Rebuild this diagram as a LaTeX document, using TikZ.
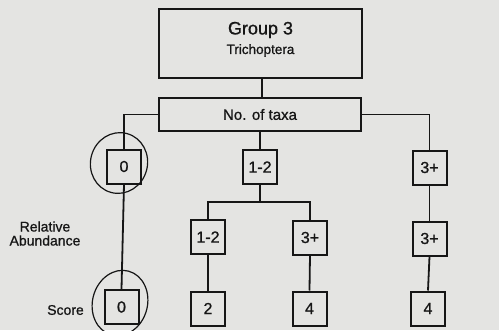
\documentclass[tikz,border=0pt]{standalone}
\usepackage{fontspec}
\setmainfont{Liberation Sans}[UprightFeatures={FakeBold=0.9}]
\definecolor{bg}{RGB}{228,228,226}
\definecolor{ink}{RGB}{22,22,22}
\begin{document}
\begin{tikzpicture}[x=1pt,y=-1pt,
  box/.style={draw=ink, line width=2pt, minimum width=34pt, minimum height=34pt, inner sep=0pt, text=ink, font=\fontsize{16}{18}\selectfont},
  conn/.style={draw=ink, line width=1.8pt},
  lbl/.style={text=ink, inner sep=0pt, font=\fontsize{14}{16}\selectfont, align=center},
  hand/.style={draw=ink, line width=1.2pt}]
\fill[bg] (0,0) rectangle (499,330);
\useasboundingbox (0,0) rectangle (499,330);
% top boxes
\node[draw=ink, line width=2pt, minimum width=203pt, minimum height=69pt] (top) at (260.5,43.5) {};
\node[lbl, font=\fontsize{18}{20}\selectfont] (g3) at (260.5,30) {Group 3};
\node[lbl, font=\fontsize{13.5}{15}\selectfont] (tri) at (260.5,50.5) {Trichoptera};
\node[draw=ink, line width=2pt, minimum width=202pt, minimum height=33pt, text=ink, font=\fontsize{15}{17}\selectfont] (taxa) at (260,114.5) {No. of taxa};
% level 2
\node[box] (b0a) at (124,166.5) {0};
\node[box] (b12a) at (260,167) {1-2};
\node[box] (b3a) at (429.5,167.5) {3+};
% level 3
\node[box] (b12b) at (208,237) {1-2};
\node[box] (b3b) at (310,237.5) {3+};
\node[box] (b3c) at (429.5,238.5) {3+};
% scores
\node[box] (b0b) at (121.5,307) {0};
\node[box] (b2) at (208,308.5) {2};
\node[box] (b4a) at (309.5,308.5) {4};
\node[box] (b4b) at (428,308.5) {4};
% side labels
\node[lbl] (rel) at (45,233.5) {Relative\\[-2pt]Abundance};
\node[lbl, anchor=east] (score) at (84,310) {Score};
% connectors
\coordinate (j) at (260,202);
\draw[conn] ([xshift=1.5pt]top.south) -- ([xshift=2pt]taxa.north);
\draw[conn] (taxa.west) -| (b0a.north);
\draw[conn] (taxa.east) -| (b3a.north);
\draw[conn] (taxa.south) -- (b12a.north);
\draw[conn] (b12a.south) -- (j);
\draw[conn] (b12b.north) |- (j) -| (b3b.north);
\draw[conn] (b0a.south) -- (b0b.north);
\draw[conn] (b12b.south) -- (b2.north);
\draw[conn] (b3b.south) -- (b4a.north);
\draw[conn] (b3a.south) -- (b3c.north);
\draw[conn] (b3c.south) -- (b4b.north);
% hand-drawn circles
\draw[hand, rotate around={-15:(119,163)}] (119,163) ellipse [x radius=28.5, y radius=30.5];
\draw[hand, rotate around={-15:(120,303)}] (120,303) ellipse [x radius=27.5, y radius=33];
\end{tikzpicture}
\end{document}
